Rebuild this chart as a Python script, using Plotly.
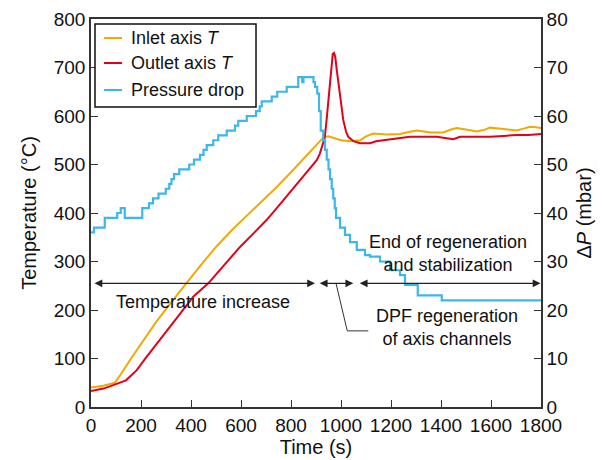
import plotly.graph_objects as go

# ---------------- data ----------------
inlet_t = [0, 50, 95, 120, 160, 200, 260, 320, 380, 440, 500, 560, 620, 680, 740, 800,
           860, 900, 930, 950, 980, 1000, 1040, 1076, 1100, 1129, 1180, 1236, 1270, 1303,
           1360, 1409, 1440, 1463, 1500, 1543, 1570, 1596, 1650, 1703, 1730, 1756, 1780, 1800]
inlet_T = [40, 44, 50, 68, 100, 130, 175, 215, 255, 293, 330, 363, 393, 422, 452, 484,
           517, 540, 556, 558, 553, 550, 548, 550, 558, 564, 562, 563, 567, 570,
           566, 566, 572, 575, 572, 568, 571, 576, 573, 570, 574, 578, 577, 575]

outlet_t = [0, 50, 89, 140, 183, 223, 290, 356, 410, 469, 530, 596, 650, 703, 743, 800,
            849, 880, 903, 915, 925, 935, 942, 949, 959, 967, 972, 977, 983, 996, 1009,
            1020, 1029, 1050, 1076, 1116, 1140, 1169, 1220, 1276, 1383, 1420, 1449, 1476,
            1596, 1650, 1703, 1750, 1780, 1800]
outlet_T = [33, 38, 45, 55, 76, 104, 148, 193, 228, 255, 290, 330, 358, 386, 410, 445,
            476, 493, 509, 522, 540, 555, 590, 633, 695, 728, 730, 722, 695, 647, 592,
            568, 557, 548, 544, 544, 548, 550, 553, 557, 557, 555, 552, 557,
            557, 559, 561, 561, 563, 563]

dp_t = [0, 12, 55, 105, 119, 135, 205, 232, 248, 270, 299, 313, 322, 332, 353, 393, 412,
        436, 450, 463, 489, 509, 543, 576, 589, 623, 660, 675, 683, 723, 745, 783, 829,
        845, 850, 890, 896, 905, 912, 919, 929, 936, 943, 950, 956, 963, 969, 975, 980,
        996, 1016, 1036, 1063, 1096, 1116, 1156, 1196, 1236, 1256, 1307, 1403, 1800]
dp_P = [36, 37, 39, 40, 41, 39, 41, 42, 43, 44, 45, 46, 47, 48, 49, 50, 51,
        52, 53, 54, 55, 56, 57, 58, 59, 60, 61, 62, 63, 64, 65, 66, 68,
        67, 68, 67, 66, 64.6, 61, 57, 55, 53, 51, 49, 47, 45, 43, 41, 39,
        37, 35.5, 34, 32.4, 31.3, 31, 30, 28.2, 27.2, 25.2, 23, 22, 22]

x_ticks = [0, 200, 400, 600, 800, 1000, 1200, 1400, 1600, 1800]
temp_ticks = [0, 100, 200, 300, 400, 500, 600, 700, 800]
dp_ticks = [0, 10, 20, 30, 40, 50, 60, 70, 80]

series_names = ["Inlet axis <i>T</i>", "Outlet axis <i>T</i>", "Pressure drop"]

ORANGE = "#F2A900"
RED = "#E2001A"
BLUE = "#3DB6E8"
colors = [ORANGE, RED, BLUE]
AX = "#333333"
FONT = "Liberation Sans, Arial, sans-serif"

fig = go.Figure()
fig.add_trace(go.Scatter(x=inlet_t, y=inlet_T, mode="lines", name=series_names[0],
                         line=dict(color=ORANGE, width=2)))
fig.add_trace(go.Scatter(x=outlet_t, y=outlet_T, mode="lines", name=series_names[1],
                         line=dict(color=RED, width=2)))
fig.add_trace(go.Scatter(x=dp_t, y=dp_P, mode="lines", name=series_names[2], yaxis="y2",
                         line=dict(color=BLUE, width=2.2, shape="hv")))

# double arrows
arrow_spans = [(8, 896), (909, 1049), (1069, 1798)]
anns = []
for a, b in arrow_spans:
    anns.append(dict(x=b, y=255, ax=a, ay=255, xref="x", yref="y", axref="x", ayref="y",
                     text="", showarrow=True, arrowhead=2, startarrowhead=2,
                     arrowside="end+start", arrowsize=1.3, startarrowsize=1.3,
                     arrowwidth=1.2, arrowcolor="#222222", standoff=0, startstandoff=0))
txt_font = dict(family=FONT, size=18, color="#111111")
anns.append(dict(x=449, y=217, xref="x", yref="y", text="Temperature increase",
                 showarrow=False, font=txt_font))
anns.append(dict(x=1428, y=317, xref="x", yref="y",
                 text="End of regeneration<br>and stabilization",
                 showarrow=False, font=txt_font))
anns.append(dict(x=1423, y=163, xref="x", yref="y",
                 text="DPF regeneration<br>of axis channels",
                 showarrow=False, font=txt_font))

fig.add_shape(type="path", xref="x", yref="y",
              path="M 980,255 L 1025,157 L 1109,157",
              line=dict(color="#333333", width=1))

# custom legend (box, short line samples, labels)
fig.add_shape(type="rect", xref="paper", yref="paper",
              x0=0.0089, x1=0.3667, y0=0.7732, y1=0.9871,
              line=dict(color="#111111", width=1.5), fillcolor="white", layer="above")
row_y = [0.951, 0.8866, 0.817]
for name, col, yy in zip(series_names, colors, row_y):
    fig.add_shape(type="line", xref="paper", yref="paper",
                  x0=0.0289, x1=0.0689, y0=yy, y1=yy,
                  line=dict(color=col, width=2), layer="above")
    anns.append(dict(x=0.0844, y=yy, xref="paper", yref="paper", text=name,
                     showarrow=False, xanchor="left", yanchor="middle",
                     font=dict(family=FONT, size=18, color="#111111")))

fig.update_layout(
    width=606, height=460,
    margin=dict(l=91, r=65, t=19, b=53),
    paper_bgcolor="white", plot_bgcolor="white",
    font=dict(family=FONT, size=19, color="#111111"),
    showlegend=False,
    xaxis=dict(range=[0, 1800], tickvals=x_ticks, ticks="inside", ticklen=7,
               tickcolor=AX, showline=True, linecolor=AX, linewidth=1.6,
               mirror=True, showgrid=False, zeroline=False, automargin=False,
               title=dict(text="Time (s)", font=dict(size=20), standoff=4),
               tickfont=dict(size=19)),
    yaxis=dict(range=[0, 800], tickvals=temp_ticks, ticks="inside", ticklen=7,
               tickcolor=AX, showline=True, linecolor=AX, linewidth=1.6,
               showgrid=False, zeroline=False, automargin=False,
               title=dict(text="Temperature (°C)", font=dict(size=20), standoff=12),
               tickfont=dict(size=19)),
    yaxis2=dict(range=[0, 80], tickvals=dp_ticks, ticks="inside", ticklen=7,
                tickcolor=AX, showline=True, linecolor=AX, linewidth=1.6,
                overlaying="y", side="right", showgrid=False, zeroline=False,
                automargin=False,
                title=dict(text="Δ<i>P</i> (mbar)", font=dict(size=20), standoff=10),
                tickfont=dict(size=19)),
    annotations=anns,
)

fig.write_html("out.html", config={"displayModeBar": False},
               post_script="document.body.style.margin='0';")
